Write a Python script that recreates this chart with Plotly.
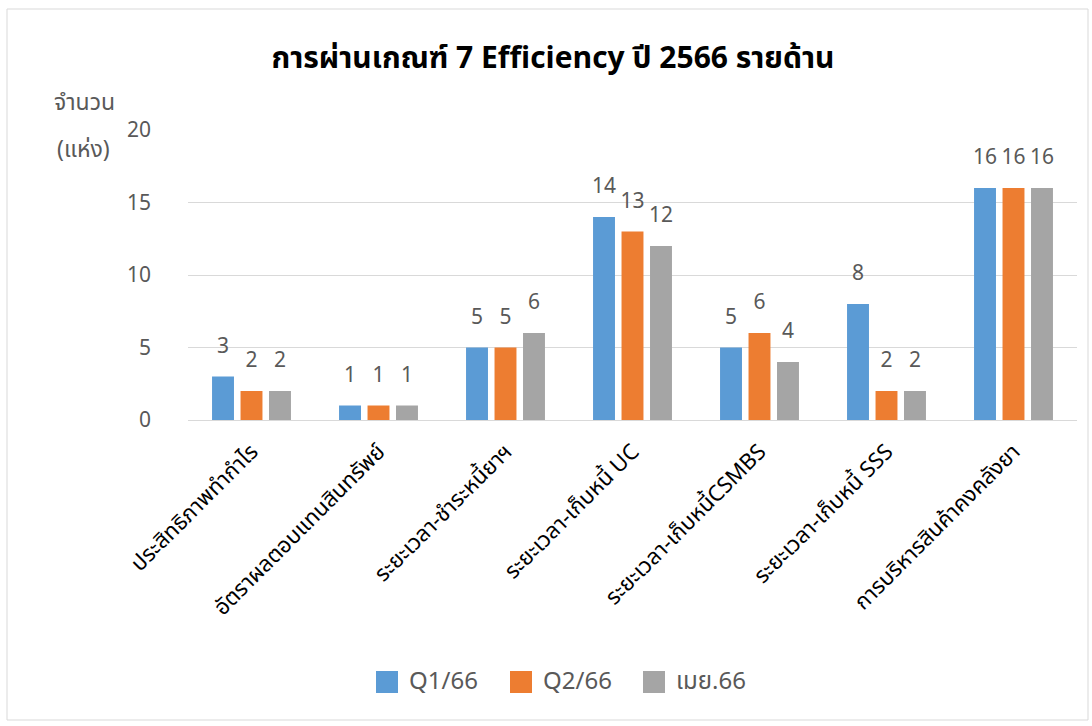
import plotly.graph_objects as go

categories = [
    "ประสิทธิภาพทำกำไร",
    "อัตราผลตอบแทนสินทรัพย์",
    "ระยะเวลา-ชำระหนี้ยาฯ",
    "ระยะเวลา-เก็บหนี้ UC",
    "ระยะเวลา-เก็บหนี้CSMBS",
    "ระยะเวลา-เก็บหนี้ SSS",
    "การบริหารสินค้าคงคลังยา",
]
series_names = ["Q1/66", "Q2/66", "เมย.66"]
q1_66 = [3, 1, 5, 14, 5, 8, 16]
q2_66 = [2, 1, 5, 13, 6, 2, 16]
apr_66 = [2, 1, 6, 12, 4, 2, 16]
colors = ["#5B9BD5", "#ED7D31", "#A5A5A5"]
y_ticks = [0, 5, 10, 15, 20]

FONT = "Tahoma, Leelawadee UI, Noto Sans Thai, Loma, Garuda, DejaVu Sans, sans-serif"

W, H = 1092, 726
L, R, T, B = 188, 15, 130, 306
PW, PH = W - L - R, H - T - B
BARGAP = 0.327


def px_x(p):
    return (p - L) / PW


def px_y(p):
    return (H - B - p) / PH


fig = go.Figure()
all_series = [q1_66, q2_66, apr_66]
for name, vals, col in zip(series_names, all_series, colors):
    fig.add_trace(go.Bar(
        x=categories, y=vals, name=name,
        marker=dict(color=col, line=dict(width=0)),
        showlegend=False, hoverinfo="x+y+name",
    ))
# value labels, grouped like the bars
for name, vals in zip(series_names, all_series):
    fig.add_trace(go.Scatter(
        x=categories, y=vals, name=name, mode="markers+text",
        marker=dict(size=28, opacity=0),
        text=[str(v) for v in vals], textposition="top center",
        textfont=dict(size=21, color="#595959", family=FONT),
        cliponaxis=False, showlegend=False, hoverinfo="skip",
    ))

fig.update_layout(
    width=W, height=H,
    margin=dict(l=L, r=R, t=T, b=B),
    paper_bgcolor="white", plot_bgcolor="white",
    barmode="group", bargap=BARGAP, bargroupgap=0.23,
    scattermode="group", scattergap=BARGAP,
    font=dict(family=FONT, color="#595959"),
    title=dict(text="<b>การผ่านเกณฑ์ 7 Efficiency ปี 2566 รายด้าน</b>",
               x=553 / W, xanchor="center", y=1 - 57 / H, yanchor="middle",
               font=dict(size=30, color="#000000", family=FONT)),
    showlegend=False,
)
fig.update_xaxes(
    tickangle=-45, tickfont=dict(size=22, color="#000000", family=FONT),
    showline=True, linecolor="#d9d9d9", linewidth=1, ticks="",
    ticklabelstandoff=9,
)
fig.update_yaxes(
    range=[0, 20], tickvals=y_ticks, showgrid=True, gridcolor="#d9d9d9",
    zeroline=False, showline=False, ticks="", ticklabelstandoff=36,
    tickfont=dict(size=21, color="#595959", family=FONT),
)
# y-axis title (horizontal, two lines)
fig.add_annotation(text="จำนวน", xref="paper", yref="paper", x=px_x(84), y=px_y(103),
                   xanchor="center", yanchor="middle", showarrow=False,
                   font=dict(size=23, color="#595959", family=FONT))
fig.add_annotation(text="(แห่ง)", xref="paper", yref="paper", x=px_x(83), y=px_y(150),
                   xanchor="center", yanchor="middle", showarrow=False,
                   font=dict(size=23, color="#595959", family=FONT))

# custom legend
legend_x = [376, 510, 643]
for lx, name, col in zip(legend_x, series_names, colors):
    fig.add_shape(type="rect", xref="paper", yref="paper",
                  x0=px_x(lx), x1=px_x(lx + 22), y0=px_y(693), y1=px_y(671),
                  fillcolor=col, line=dict(width=0))
    fig.add_annotation(text=name, xref="paper", yref="paper", x=px_x(lx + 31), y=px_y(682),
                       xanchor="left", yanchor="middle", showarrow=False,
                       font=dict(size=24, color="#595959", family=FONT))

# chart border
fig.add_shape(type="rect", xref="paper", yref="paper",
              x0=px_x(7), x1=px_x(1088), y0=px_y(720), y1=px_y(9),
              line=dict(color="#d9d9d9", width=1), layer="below")

fig.write_html("out.html", config={"displayModeBar": False},
               post_script="document.body.style.margin='0';document.body.style.overflow='hidden';")
